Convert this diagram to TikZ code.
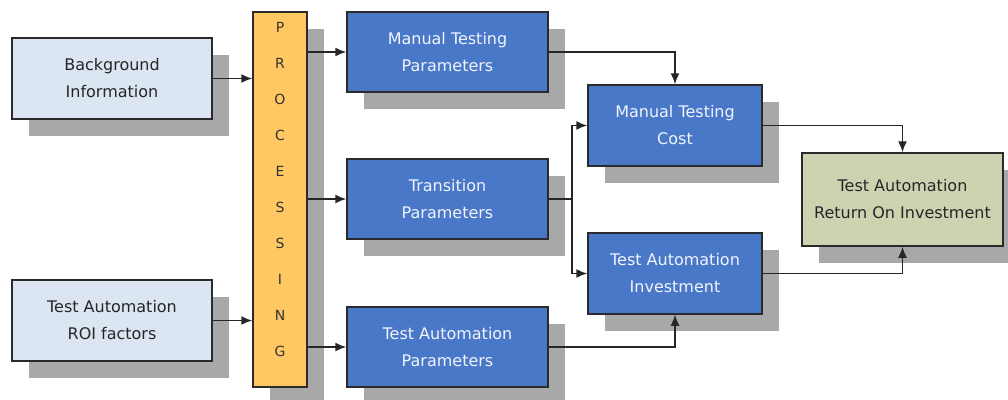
\documentclass[tikz,border=0pt]{standalone}
\usepackage{fontspec}
\setmainfont{DejaVu Sans}
\usetikzlibrary{arrows.meta,shadows,positioning}
\definecolor{inputfill}{HTML}{DCE6F2}
\definecolor{procfill}{HTML}{FFC862}
\definecolor{paramfill}{HTML}{4A78C8}
\definecolor{roifill}{HTML}{CDD2B0}
\definecolor{shadowgray}{HTML}{A8A8A8}
\definecolor{edgegray}{HTML}{2A2A2A}

\begin{document}
\begin{tikzpicture}[x=1pt, y=-1pt,
	box/.style={draw=edgegray, line width=1.5pt, align=center, inner sep=0pt,
		font=\fontsize{16}{27}\selectfont,
		general shadow={shadow xshift=17pt, shadow yshift=-17pt, fill=shadowgray}},
	inbox/.style={box, fill=inputfill, text=black!85, minimum width=200pt, minimum height=81pt},
	parambox/.style={box, fill=paramfill, text=white!92!paramfill, minimum width=201pt, minimum height=80pt},
	costbox/.style={box, fill=paramfill, text=white!92!paramfill, minimum width=174pt, minimum height=81pt},
	conn/.style={draw=black!85, line width=1.5pt, -{Latex[length=11pt,width=9pt]}}]
	\useasboundingbox (0,0) rectangle (1008,399);
	% inputs and processing bar
	\node[inbox] (background)	at	(112, 78.5)	{Background\\Information};
	\node[inbox] (roifactors)	at	(112, 320.5)	{Test Automation\\ROI factors};
	\node[box, fill=procfill, minimum width=54pt, minimum height=375pt] (processing) at (280, 199.5) {};
	\node[align=center, text=black!80, font=\fontsize{14}{35.9}\selectfont] (proclabel) at (280, 189.5)
		{P\\R\\O\\C\\E\\S\\S\\I\\N\\G};
	% parameters
	\node[parambox] (manualparams)	at	(447.5, 52)	{Manual Testing\\Parameters};
	\node[parambox] (transparams)	at	(447.5, 199)	{Transition\\Parameters};
	\node[parambox] (autoparams)	at	(447.5, 347)	{Test Automation\\Parameters};
	% costs
	\node[costbox] (manualcost)	at	(675, 125.5)	{Manual Testing\\Cost};
	\node[costbox] (autoinvest)	at	(675, 273.5)	{Test Automation\\Investment};
	\node[box, fill=roifill, text=black!85, minimum width=201pt, minimum height=93pt] (roi)
		at (902.5, 199.5) {Test Automation\\Return On Investment};
	% connectors
	\draw[conn] (background.east) -- (background.east -| processing.west);
	\draw[conn] (roifactors.east) -- (roifactors.east -| processing.west);
	\draw[conn] (processing.east |- manualparams.west) -- (manualparams.west);
	\draw[conn] (processing.east |- transparams.west) -- (transparams.west);
	\draw[conn] (processing.east |- autoparams.west) -- (autoparams.west);
	\draw[conn] (manualparams.east) -| (manualcost.north);
	\draw[conn] (transparams.east) -- ++(23,0) coordinate (split) |- (manualcost.west);
	\draw[conn] (split) |- (autoinvest.west);
	\draw[conn] (autoparams.east) -| (autoinvest.south);
	\draw[conn] (manualcost.east) -| (roi.north);
	\draw[conn] (autoinvest.east) -| (roi.south);
\end{tikzpicture}
\end{document}
